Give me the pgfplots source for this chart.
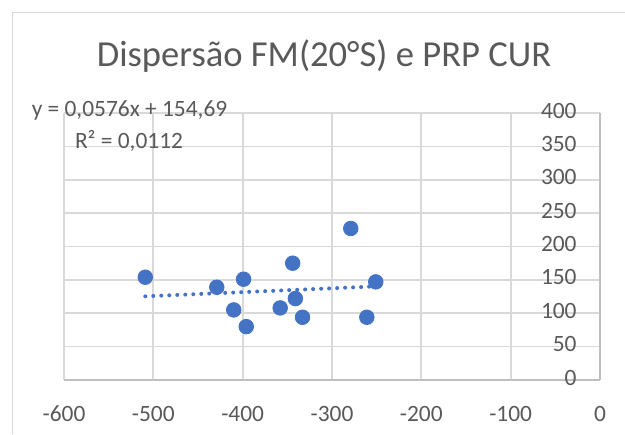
\documentclass[border=0pt]{standalone}
\usepackage{pgfplots}
\pgfplotsset{compat=1.18}
\usepackage{fontspec}
\setmainfont{Carlito}
\definecolor{ptblue}{HTML}{4472C4}
\definecolor{txtgray}{HTML}{595959}
\definecolor{gridgray}{HTML}{D9D9D9}
\definecolor{axgray}{HTML}{BFBFBF}
\begin{document}
\begin{tikzpicture}[x=0.5pt,y=0.5pt]
\useasboundingbox (0,0) rectangle (625,434);
\draw[gridgray, line width=0.7pt] (12.5,0) -- (12.5,421.5) -- (625,421.5);
\node[anchor=base, text=txtgray, font=\fontsize{18.3}{22}\selectfont] at (324,367.2) {Dispersão FM(20°S) e PRP CUR};
\begin{axis}[
  scale only axis, width=268pt, height=133.5pt,
  anchor=south west, at={(32pt,27pt)},
  xmin=-600, xmax=0, ymin=0, ymax=400,
  xtick={-600,-500,-400,-300,-200,-100,0},
  xticklabels={-600,-500,-400,-300,-200,-100,0},
  ytick={0,50,100,150,200,250,300,350,400},
  yticklabels={0,50,100,150,200,250,300,350,400},
  axis x line*=bottom, axis y line*=right,
  yticklabel pos=right,
  major tick length=0pt,
  grid=major, major grid style={gridgray, line width=0.85pt},
  axis line style={axgray, line width=0.9pt, -},
  xticklabel style={anchor=base, inner sep=0pt, yshift=-20.7pt, text=txtgray, font=\fontsize{11.7}{14}\selectfont},
  yticklabel style={anchor=base east, inner sep=0pt, xshift=-11.5pt, yshift=-2.5pt, text=txtgray, font=\fontsize{11.7}{14}\selectfont},
  clip=false,
]
\addplot[only marks, mark=*, mark size=3.65pt, mark options={draw=ptblue, fill=ptblue}] coordinates {
(-509,154) (-429,139) (-399,151) (-410,105) (-396,80) (-358,108)
(-344,175) (-341,122) (-333,94) (-279,227) (-261,94) (-251,147)
};
\addplot[ptblue, line width=2pt, dash pattern=on 0pt off 4pt, line cap=round] coordinates {(-509,125.37) (-251,140.23)};
\end{axis}
\node[anchor=base, text=txtgray, font=\fontsize{11.7}{14}\selectfont] at (129.5,317.3) {y = 0,0576x + 154,69};
\node[anchor=base, text=txtgray, font=\fontsize{11.7}{14}\selectfont] at (129,285.7) {R² = 0,0112};
\end{tikzpicture}
\end{document}
